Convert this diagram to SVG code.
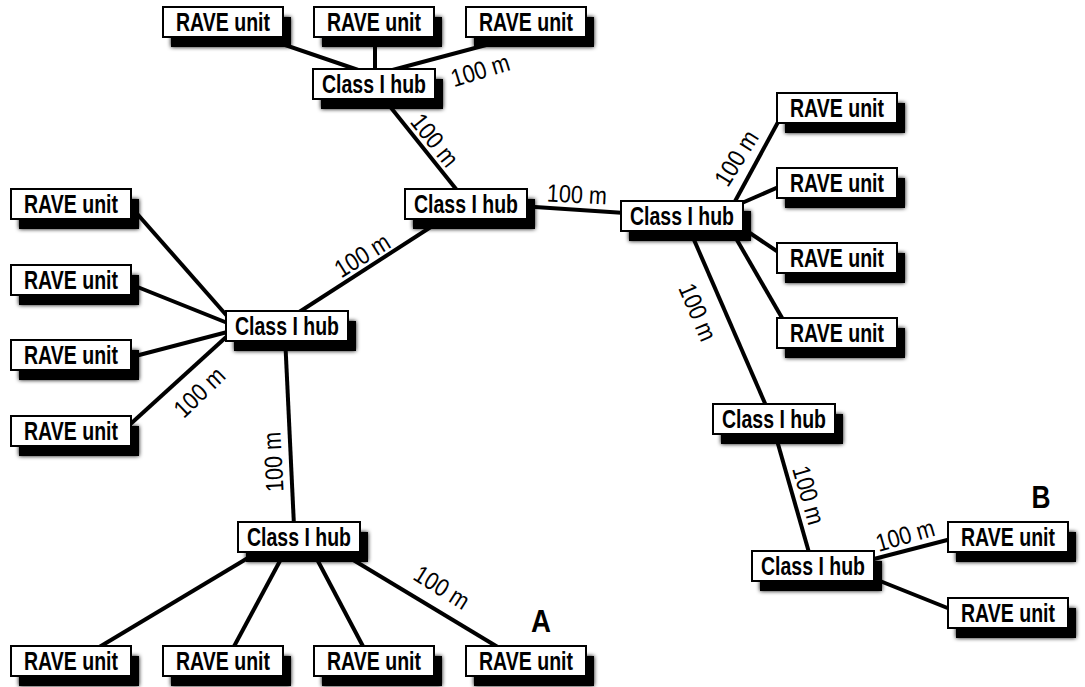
<svg xmlns="http://www.w3.org/2000/svg" width="1085" height="687" viewBox="0 0 1085 687">
<defs>
<filter id="soft" x="-20%" y="-50%" width="140%" height="200%">
<feGaussianBlur in="SourceGraphic" stdDeviation="2.2" result="b"/>
<feMerge><feMergeNode in="b"/><feMergeNode in="SourceGraphic"/></feMerge>
</filter>
<style>
.sh{fill:#000;filter:url(#soft)}
.box{fill:#fff;stroke:#000;stroke-width:2}
.t{font-family:"Liberation Sans",Arial,sans-serif;font-weight:bold;font-size:25px;text-anchor:middle;fill:#000}
.lbl{font-family:"Liberation Sans",Arial,sans-serif;font-size:25px;text-anchor:middle;fill:#000}
.big{font-family:"Liberation Sans",Arial,sans-serif;font-weight:bold;font-size:31px;text-anchor:middle;fill:#000}
#connectors line{stroke:#000;stroke-width:4;stroke-linecap:butt}
</style>
</defs>
<rect width="1085" height="687" fill="#fff"/>
<g id="connectors">
<line x1="250" y1="33" x2="367" y2="73"/>
<line x1="375" y1="30" x2="375" y2="75"/>
<line x1="520" y1="36" x2="385" y2="72"/>
<line x1="380" y1="94" x2="460" y2="194"/>
<line x1="520" y1="206" x2="625" y2="213"/>
<line x1="451" y1="214" x2="293" y2="316"/>
<line x1="125" y1="200" x2="235" y2="325"/>
<line x1="120" y1="280" x2="235" y2="326"/>
<line x1="120" y1="360" x2="235" y2="330"/>
<line x1="125" y1="429" x2="235" y2="329"/>
<line x1="285" y1="336" x2="294" y2="526"/>
<line x1="268" y1="546" x2="91" y2="652"/>
<line x1="288" y1="546" x2="231" y2="652"/>
<line x1="310" y1="546" x2="366" y2="652"/>
<line x1="330" y1="546" x2="506" y2="652"/>
<line x1="733" y1="205" x2="783" y2="113"/>
<line x1="735" y1="206" x2="790" y2="182"/>
<line x1="735" y1="223" x2="790" y2="260"/>
<line x1="730" y1="228" x2="785" y2="323"/>
<line x1="688" y1="226" x2="767" y2="408"/>
<line x1="774" y1="430" x2="810" y2="556"/>
<line x1="870" y1="560" x2="955" y2="538"/>
<line x1="870" y1="577" x2="955" y2="611"/>
</g>
<g id="labels">
<text class="lbl" textLength="60" lengthAdjust="spacingAndGlyphs" transform="translate(480,70) rotate(-17)" y="9">100 m</text>
<text class="lbl" textLength="60" lengthAdjust="spacingAndGlyphs" transform="translate(435,140) rotate(51)" y="9">100 m</text>
<text class="lbl" textLength="60" lengthAdjust="spacingAndGlyphs" transform="translate(577,194) rotate(3)" y="9">100 m</text>
<text class="lbl" textLength="60" lengthAdjust="spacingAndGlyphs" transform="translate(362,255) rotate(-32)" y="9">100 m</text>
<text class="lbl" textLength="60" lengthAdjust="spacingAndGlyphs" transform="translate(199,392) rotate(-44)" y="9">100 m</text>
<text class="lbl" textLength="60" lengthAdjust="spacingAndGlyphs" transform="translate(273,462) rotate(-93)" y="9">100 m</text>
<text class="lbl" textLength="60" lengthAdjust="spacingAndGlyphs" transform="translate(442,587) rotate(32)" y="9">100 m</text>
<text class="lbl" textLength="60" lengthAdjust="spacingAndGlyphs" transform="translate(736,158) rotate(-58)" y="9">100 m</text>
<text class="lbl" textLength="60" lengthAdjust="spacingAndGlyphs" transform="translate(698,312) rotate(67)" y="9">100 m</text>
<text class="lbl" textLength="60" lengthAdjust="spacingAndGlyphs" transform="translate(809,495) rotate(74)" y="9">100 m</text>
<text class="lbl" textLength="60" lengthAdjust="spacingAndGlyphs" transform="translate(905,535) rotate(-16)" y="9">100 m</text>
<text class="big" x="541" y="632" textLength="20" lengthAdjust="spacingAndGlyphs">A</text>
<text class="big" x="1041" y="508" textLength="19" lengthAdjust="spacingAndGlyphs">B</text>
</g>
<g id="r_t1" transform="translate(163,7)"><rect class="sh" x="8" y="10" width="120" height="30"/><rect class="box" width="120" height="30"/><text class="t" x="60" y="24" textLength="94" lengthAdjust="spacingAndGlyphs">RAVE unit</text></g>
<g id="r_t2" transform="translate(314,7)"><rect class="sh" x="8" y="10" width="120" height="30"/><rect class="box" width="120" height="30"/><text class="t" x="60" y="24" textLength="94" lengthAdjust="spacingAndGlyphs">RAVE unit</text></g>
<g id="r_t3" transform="translate(466,7)"><rect class="sh" x="8" y="10" width="120" height="30"/><rect class="box" width="120" height="30"/><text class="t" x="60" y="24" textLength="94" lengthAdjust="spacingAndGlyphs">RAVE unit</text></g>
<g id="hub_top" transform="translate(313,69)"><rect class="sh" x="8" y="10" width="122" height="30"/><rect class="box" width="122" height="30"/><text class="t" x="61" y="24" textLength="104" lengthAdjust="spacingAndGlyphs">Class I hub</text></g>
<g id="hub_c" transform="translate(405,189)"><rect class="sh" x="8" y="10" width="122" height="30"/><rect class="box" width="122" height="30"/><text class="t" x="61" y="24" textLength="104" lengthAdjust="spacingAndGlyphs">Class I hub</text></g>
<g id="hub_l" transform="translate(226,311)"><rect class="sh" x="8" y="10" width="122" height="30"/><rect class="box" width="122" height="30"/><text class="t" x="61" y="24" textLength="104" lengthAdjust="spacingAndGlyphs">Class I hub</text></g>
<g id="r_l1" transform="translate(11,189)"><rect class="sh" x="8" y="10" width="120" height="30"/><rect class="box" width="120" height="30"/><text class="t" x="60" y="24" textLength="94" lengthAdjust="spacingAndGlyphs">RAVE unit</text></g>
<g id="r_l2" transform="translate(11,265)"><rect class="sh" x="8" y="10" width="120" height="30"/><rect class="box" width="120" height="30"/><text class="t" x="60" y="24" textLength="94" lengthAdjust="spacingAndGlyphs">RAVE unit</text></g>
<g id="r_l3" transform="translate(11,340)"><rect class="sh" x="8" y="10" width="120" height="30"/><rect class="box" width="120" height="30"/><text class="t" x="60" y="24" textLength="94" lengthAdjust="spacingAndGlyphs">RAVE unit</text></g>
<g id="r_l4" transform="translate(11,416)"><rect class="sh" x="8" y="10" width="120" height="30"/><rect class="box" width="120" height="30"/><text class="t" x="60" y="24" textLength="94" lengthAdjust="spacingAndGlyphs">RAVE unit</text></g>
<g id="hub_b" transform="translate(238,522)"><rect class="sh" x="8" y="10" width="122" height="30"/><rect class="box" width="122" height="30"/><text class="t" x="61" y="24" textLength="104" lengthAdjust="spacingAndGlyphs">Class I hub</text></g>
<g id="r_b1" transform="translate(11,646)"><rect class="sh" x="8" y="10" width="120" height="30"/><rect class="box" width="120" height="30"/><text class="t" x="60" y="24" textLength="94" lengthAdjust="spacingAndGlyphs">RAVE unit</text></g>
<g id="r_b2" transform="translate(163,646)"><rect class="sh" x="8" y="10" width="120" height="30"/><rect class="box" width="120" height="30"/><text class="t" x="60" y="24" textLength="94" lengthAdjust="spacingAndGlyphs">RAVE unit</text></g>
<g id="r_b3" transform="translate(314,646)"><rect class="sh" x="8" y="10" width="120" height="30"/><rect class="box" width="120" height="30"/><text class="t" x="60" y="24" textLength="94" lengthAdjust="spacingAndGlyphs">RAVE unit</text></g>
<g id="r_b4" transform="translate(466,646)"><rect class="sh" x="8" y="10" width="120" height="30"/><rect class="box" width="120" height="30"/><text class="t" x="60" y="24" textLength="94" lengthAdjust="spacingAndGlyphs">RAVE unit</text></g>
<g id="hub_r" transform="translate(621,201)"><rect class="sh" x="8" y="10" width="122" height="30"/><rect class="box" width="122" height="30"/><text class="t" x="61" y="24" textLength="104" lengthAdjust="spacingAndGlyphs">Class I hub</text></g>
<g id="r_r1" transform="translate(777,93)"><rect class="sh" x="8" y="10" width="120" height="30"/><rect class="box" width="120" height="30"/><text class="t" x="60" y="24" textLength="94" lengthAdjust="spacingAndGlyphs">RAVE unit</text></g>
<g id="r_r2" transform="translate(777,168)"><rect class="sh" x="8" y="10" width="120" height="30"/><rect class="box" width="120" height="30"/><text class="t" x="60" y="24" textLength="94" lengthAdjust="spacingAndGlyphs">RAVE unit</text></g>
<g id="r_r3" transform="translate(777,243)"><rect class="sh" x="8" y="10" width="120" height="30"/><rect class="box" width="120" height="30"/><text class="t" x="60" y="24" textLength="94" lengthAdjust="spacingAndGlyphs">RAVE unit</text></g>
<g id="r_r4" transform="translate(777,318)"><rect class="sh" x="8" y="10" width="120" height="30"/><rect class="box" width="120" height="30"/><text class="t" x="60" y="24" textLength="94" lengthAdjust="spacingAndGlyphs">RAVE unit</text></g>
<g id="hub_r1" transform="translate(713,404)"><rect class="sh" x="8" y="10" width="122" height="30"/><rect class="box" width="122" height="30"/><text class="t" x="61" y="24" textLength="104" lengthAdjust="spacingAndGlyphs">Class I hub</text></g>
<g id="hub_r2" transform="translate(752,551)"><rect class="sh" x="8" y="10" width="122" height="30"/><rect class="box" width="122" height="30"/><text class="t" x="61" y="24" textLength="104" lengthAdjust="spacingAndGlyphs">Class I hub</text></g>
<g id="r_B1" transform="translate(948,522)"><rect class="sh" x="8" y="10" width="120" height="30"/><rect class="box" width="120" height="30"/><text class="t" x="60" y="24" textLength="94" lengthAdjust="spacingAndGlyphs">RAVE unit</text></g>
<g id="r_B2" transform="translate(948,598)"><rect class="sh" x="8" y="10" width="120" height="30"/><rect class="box" width="120" height="30"/><text class="t" x="60" y="24" textLength="94" lengthAdjust="spacingAndGlyphs">RAVE unit</text></g>
</svg>
